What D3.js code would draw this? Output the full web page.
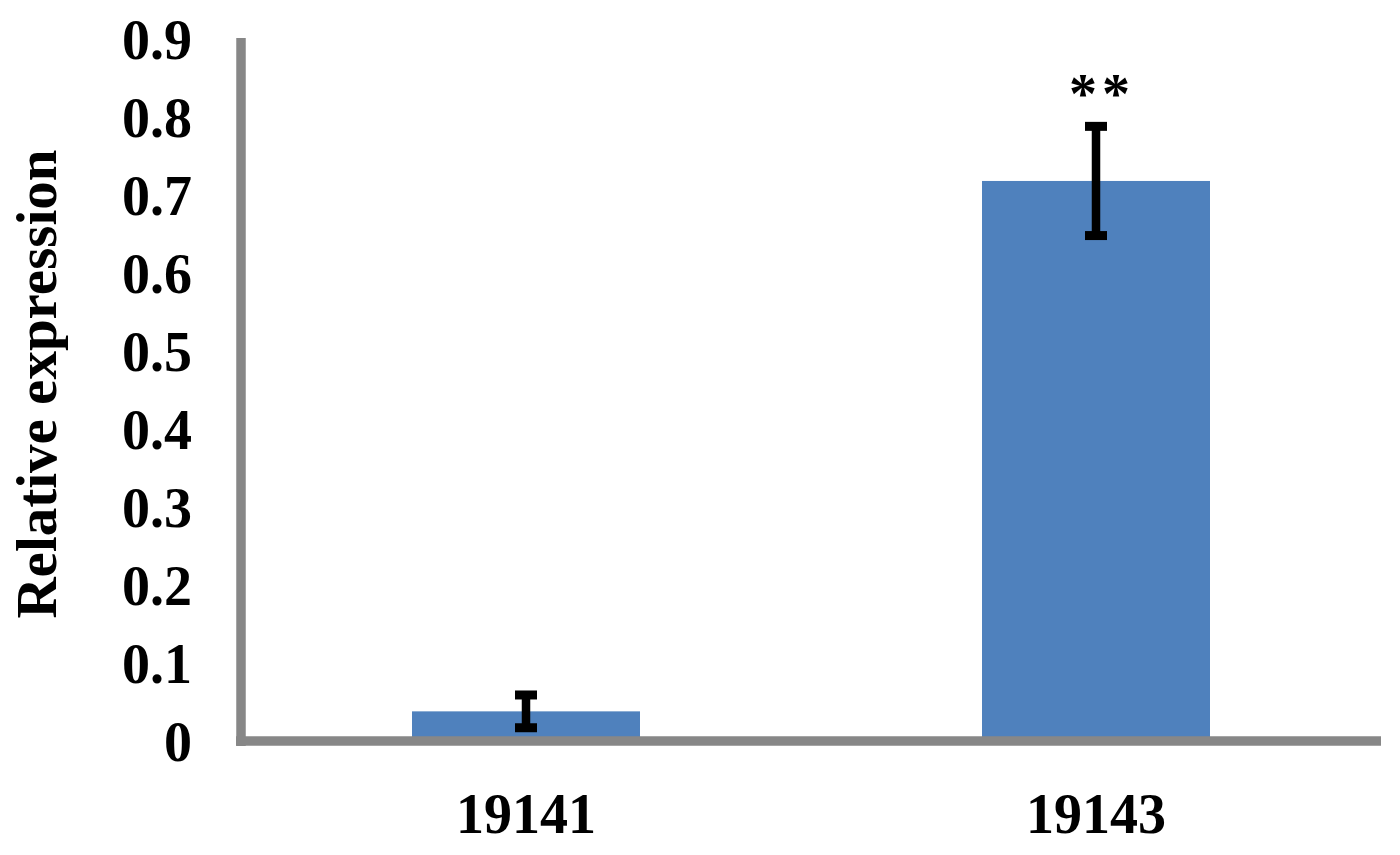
<!DOCTYPE html>
<html>
<head>
<meta charset="utf-8">
<script src="https://cdn.jsdelivr.net/npm/d3@7"></script>
<style>
  body { margin: 0; background: #fff; }
  text { font-family: "Liberation Serif", "Times New Roman", serif; font-weight: bold; fill: #000; }
</style>
</head>
<body>
<div id="chart"></div>
<script>
// data
var categories = ["19141", "19143"];
var values     = [0.038, 0.718];
var errors     = [0.021, 0.070];
var marks      = ["", "**"];
var yTicks     = [0, 0.1, 0.2, 0.3, 0.4, 0.5, 0.6, 0.7, 0.8, 0.9];

var width = 1400, height = 855;
// plot edges (px)
var plotL = 241, plotR = 1381, plotT = 39, plotB = 741;

var svg = d3.select("#chart")
	.append("svg")
		.attr("width", width)
		.attr("height", height);

var x = d3.scaleBand()
	.domain(categories)
	.range([plotL, plotR])
	.paddingInner(0.6)
	.paddingOuter(0.3);

var y = d3.scaleLinear()
	.domain([0, 0.9])
	.range([plotB, plotT]);

// bars
svg.selectAll("rect.bar")
	.data(values)
	.enter().append("rect")
		.attr("class", "bar")
		.attr("x", function(d, i) { return x(categories[i]); })
		.attr("y", function(d) { return y(d); })
		.attr("width", x.bandwidth())
		.attr("height", function(d) { return y(0) - y(d); })
		.attr("fill", "#4F81BD");

// axes (gray, thick, no tick marks)
var yAxis = svg.append("g")
	.attr("transform", "translate(" + plotL + ",0)")
	.call(d3.axisLeft(y).tickValues(yTicks).tickSize(0).tickPadding(49)
		.tickFormat(function(d) { return d === 0 ? "0" : d3.format(".1f")(d); }));
yAxis.select(".domain").attr("stroke", "#878787").attr("stroke-width", 9.5)
	.attr("d", "M0," + (plotT - 1) + "V" + (plotB + 5));
yAxis.selectAll("text")
	.attr("font-size", 56).attr("dy", "0.34em")
	.style("font-family", "'Liberation Serif', serif").style("font-weight", "bold");

var xAxis = svg.append("g")
	.attr("transform", "translate(0," + plotB + ")")
	.call(d3.axisBottom(x).tickSize(0).tickPadding(52));
xAxis.select(".domain").attr("stroke", "#878787").attr("stroke-width", 9.5)
	.attr("d", "M" + (plotL - 5) + ",0H" + plotR);
xAxis.selectAll("text")
	.attr("font-size", 56).attr("dy", "0.71em")
	.style("font-family", "'Liberation Serif', serif").style("font-weight", "bold");

// error bars
var eb = svg.selectAll("g.err")
	.data(values)
	.enter().append("g")
		.attr("class", "err");

eb.append("line")
	.attr("x1", function(d, i) { return x(categories[i]) + x.bandwidth() / 2; })
	.attr("x2", function(d, i) { return x(categories[i]) + x.bandwidth() / 2; })
	.attr("y1", function(d, i) { return y(d + errors[i]); })
	.attr("y2", function(d, i) { return y(d - errors[i]); })
	.attr("stroke", "#000").attr("stroke-width", 8.5);

[1, -1].forEach(function(s) {
	eb.append("line")
		.attr("x1", function(d, i) { return x(categories[i]) + x.bandwidth() / 2 - 11; })
		.attr("x2", function(d, i) { return x(categories[i]) + x.bandwidth() / 2 + 11; })
		.attr("y1", function(d, i) { return y(d + s * errors[i]); })
		.attr("y2", function(d, i) { return y(d + s * errors[i]); })
		.attr("stroke", "#000").attr("stroke-width", 9);
});

// significance marks
svg.selectAll("text.mark")
	.data(marks)
	.enter().append("text")
		.attr("class", "mark")
		.attr("x", function(d, i) { return x(categories[i]) + x.bandwidth() / 2 + 6; })
		.attr("y", function(d, i) { return y(values[i] + errors[i]) - 13; })
		.attr("text-anchor", "middle")
		.attr("font-size", 56)
		.attr("letter-spacing", 5)
		.text(function(d) { return d; });

// y title
svg.append("text")
	.attr("transform", "translate(56,384) rotate(-90)")
	.attr("text-anchor", "middle")
	.attr("font-size", 57)
	.text("Relative expression");
</script>
</body>
</html>
